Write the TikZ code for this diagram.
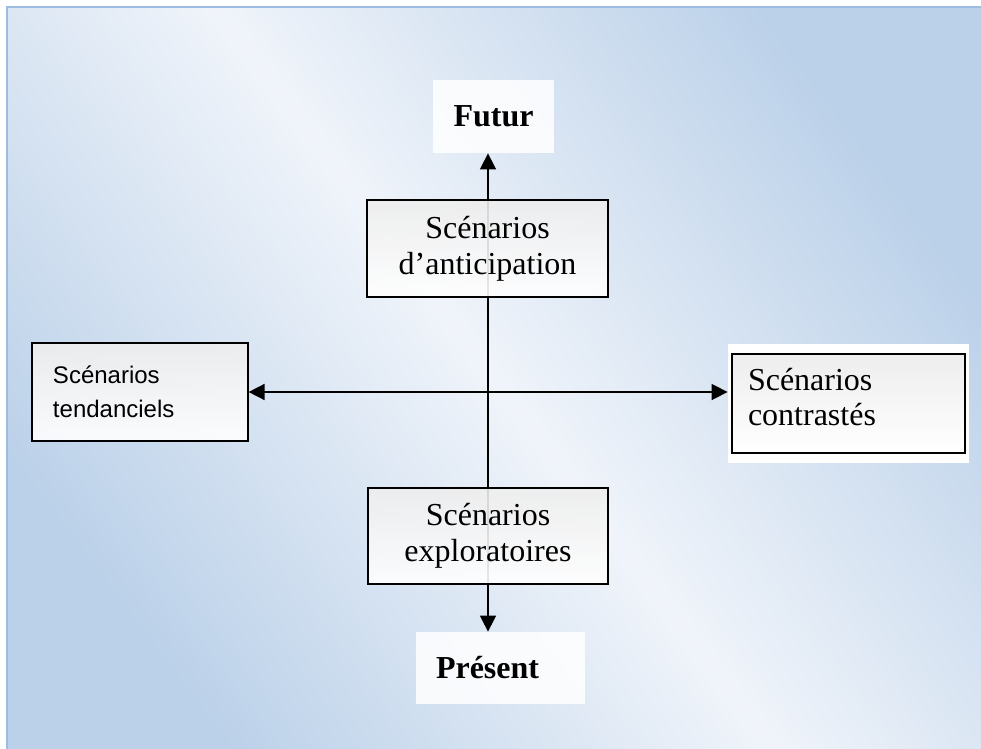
\documentclass[tikz,border=0pt]{standalone}
\usepackage{fontspec}
\setmainfont{Liberation Serif}
\setsansfont{Liberation Sans}
\usetikzlibrary{arrows.meta}

\definecolor{fondbleu}{HTML}{BBD1E9}
\definecolor{fondclair}{HTML}{F0F4FA}
\definecolor{cadrebleu}{HTML}{9DBDE0}

\tikzset{
    boite/.style={draw=black, line width=0.6pt, top color=gray!14, bottom color=white,
        fill opacity=0.9, text opacity=1, inner sep=0pt, align=center,
        font=\fontsize{16}{18}\selectfont},
    repere/.style={fill=white, fill opacity=0.85, text opacity=1, inner sep=0pt,
        font=\fontsize{16}{19}\selectfont\bfseries},
    fleche/.style={line width=0.8pt,
        {Triangle[length=8pt,width=8pt]}-{Triangle[length=8pt,width=8pt]}}
}

\begin{document}
\begin{tikzpicture}[x=0.5pt, y=-0.5pt]
            % Fond
            \useasboundingbox (0,0) rectangle (981,749);
            \shade[top color=fondbleu, bottom color=fondbleu, middle color=fondclair,
                shading angle=-53] (7,7) rectangle (981,749);
            \draw[cadrebleu, line width=1.2pt] (981,7) -- (7,7) -- (7,749);

            % Futur et present
            \node[repere, minimum width=60.5pt, minimum height=36.5pt] (futur) at (493.5,116.5) {Futur};
            \node[repere, minimum width=84.5pt, minimum height=36pt, text width=64.5pt,
                inner xsep=10pt, align=left] (present) at (500.5,668) {Présent};

            % Scenarios sur l'axe horizontal
            \node[boite, minimum width=108pt, minimum height=49pt, text width=87pt, inner xsep=10.5pt,
                align=left, font=\sffamily\fontsize{12}{17}\selectfont] (tendanciels) at (140,392) {Scénarios\\tendanciels};
            \fill[white] (728,344) rectangle (969,463);
            \draw[line width=0.6pt, top color=gray!14, bottom color=white] (732,354) rectangle (965,453);
            \node[minimum width=120.5pt, minimum height=50pt, text width=100.5pt, inner xsep=10pt,
                align=left, font=\fontsize{16}{17.5}\selectfont] (contrastes) at (848.5,397.5) {Scénarios\\contrastés};

            % Axes
            \coordinate (centre) at (488,392);
            \draw[fleche] (futur.south -| centre) -- (present.north -| centre);
            \draw[fleche] (tendanciels.east |- centre) -- (contrastes.west |- centre);

            % Scenarios sur l'axe vertical
            \node[boite, minimum width=120.5pt, minimum height=48.5pt] (anticipation) at (487.5,248.5) {Scénarios\\d’anticipation};
            \node[boite, minimum width=120pt, minimum height=48pt] (exploratoires) at (488,536) {Scénarios\\exploratoires};
        \end{tikzpicture}
\end{document}
